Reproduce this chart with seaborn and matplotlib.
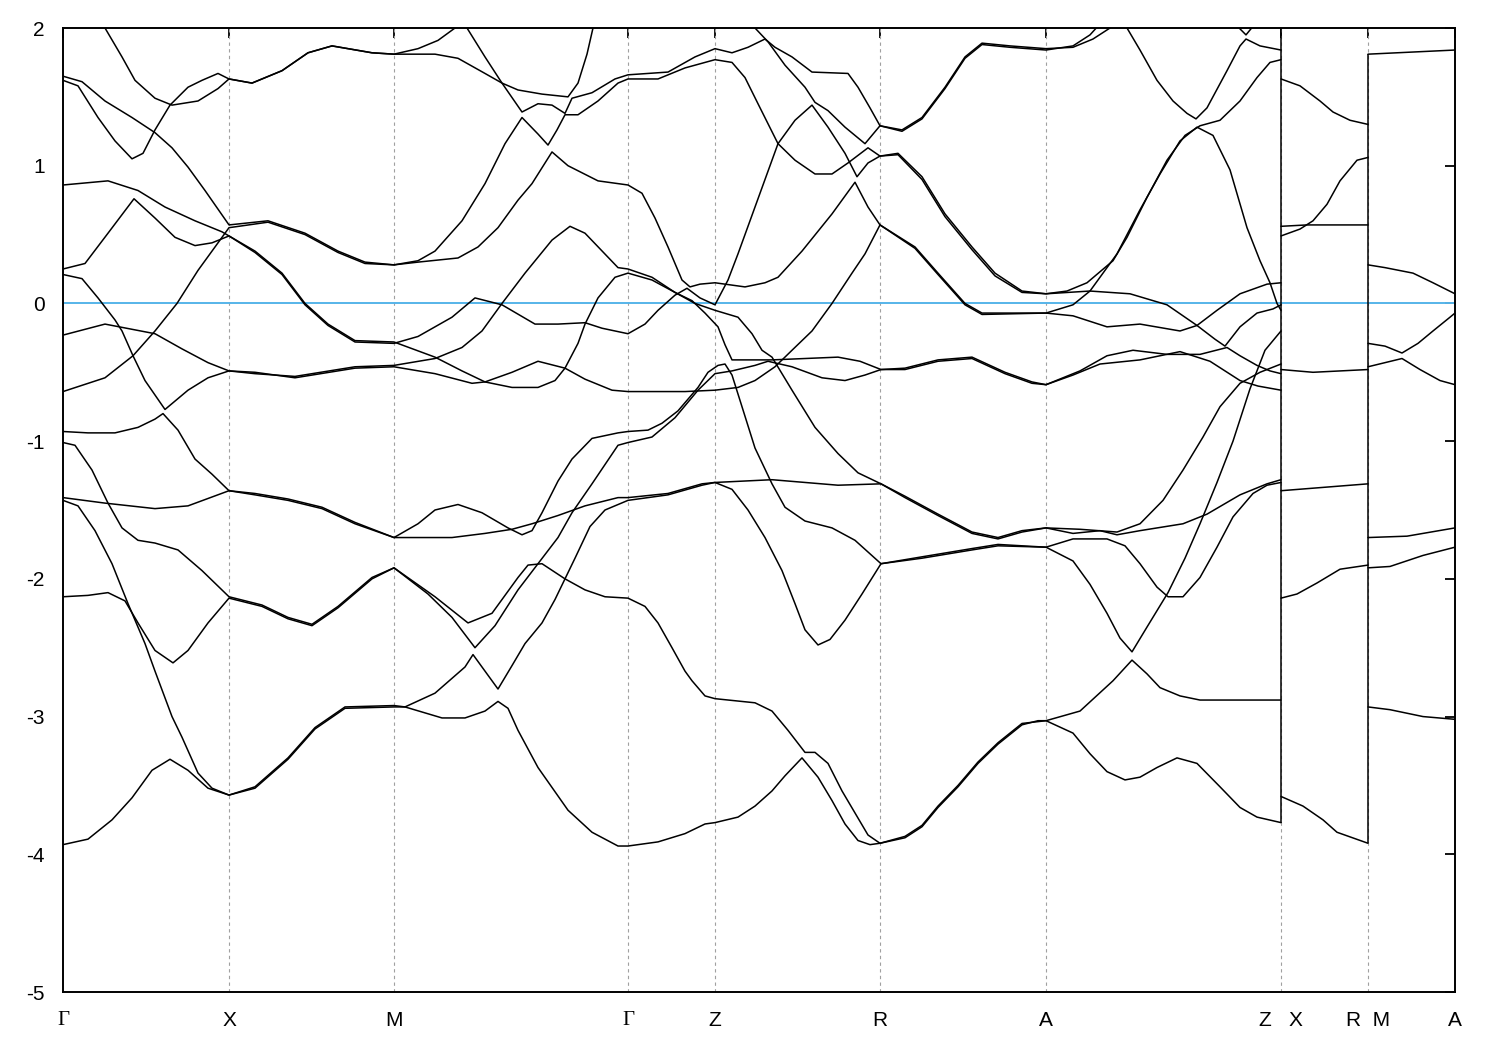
import matplotlib
matplotlib.use('Agg')
import matplotlib.pyplot as plt
import seaborn as sns
import pandas as pd

# high symmetry points along the k-path
k_ticks = [0, 166, 331, 565, 652, 817, 983, 1218, 1305, 1392]
k_labels = ['Γ', 'X', 'M', 'Γ', 'Z', 'R', 'A', 'Z   X', 'R  M', 'A']

# bands on Γ-X-M-Γ-Z-R-A-Z, (k, E) pairs
band_01 = [(37, 2.05), (42, 2.0), (59, 1.79), (72, 1.62), (92, 1.49), (109, 1.44), (135, 1.47), (155, 1.56),
           (166, 1.63), (189, 1.6), (219, 1.69), (245, 1.82), (269, 1.87), (309, 1.82), (331, 1.81), (372, 1.81),
           (395, 1.78), (422, 1.67), (439, 1.6), (455, 1.55), (479, 1.52), (505, 1.5), (515, 1.6), (524, 1.81),
           (530, 2.0), (532, 2.05)]
band_02 = [(0, 1.62), (15, 1.58), (35, 1.35), (52, 1.18), (69, 1.05), (80, 1.09), (92, 1.26), (107, 1.44),
           (125, 1.57), (139, 1.62), (155, 1.67), (166, 1.63), (189, 1.6), (219, 1.69), (245, 1.82), (269, 1.87),
           (309, 1.82), (331, 1.81), (355, 1.85), (375, 1.91), (392, 2.0), (395, 2.03)]
band_03 = [(0, 1.65), (19, 1.61), (42, 1.47), (69, 1.35), (92, 1.24), (109, 1.13), (125, 0.99), (142, 0.82),
           (166, 0.57), (205, 0.6), (242, 0.51), (275, 0.38), (302, 0.3), (331, 0.28), (355, 0.3), (395, 0.33),
           (415, 0.41), (435, 0.55), (455, 0.75), (469, 0.87), (489, 1.1), (505, 1.0), (535, 0.89), (565, 0.86),
           (579, 0.8), (592, 0.62), (605, 0.41), (619, 0.17), (627, 0.12), (637, 0.14), (652, 0.15), (682, 0.12),
           (702, 0.15), (715, 0.19), (739, 0.38), (769, 0.65), (792, 0.88), (805, 0.7), (817, 0.57), (852, 0.41),
           (875, 0.22), (902, 0.0), (919, -0.07), (947, -0.07), (983, -0.07), (1010, -0.01), (1027, 0.09),
           (1054, 0.36), (1077, 0.68), (1097, 0.94), (1117, 1.18), (1134, 1.28), (1150, 1.22), (1167, 0.97),
           (1184, 0.55), (1197, 0.31), (1207, 0.15), (1214, 0.0), (1218, -0.05)]
band_04 = [(0, -0.64), (42, -0.54), (70, -0.38), (92, -0.2), (114, 0.0), (135, 0.24), (155, 0.44), (166, 0.55),
           (205, 0.59), (242, 0.5), (275, 0.37), (302, 0.29), (331, 0.28), (355, 0.31), (372, 0.38), (399, 0.6),
           (422, 0.87), (442, 1.16), (459, 1.35), (475, 1.23), (485, 1.15), (494, 1.26), (502, 1.37), (515, 1.37),
           (535, 1.47), (555, 1.6), (565, 1.63), (595, 1.63), (622, 1.71), (652, 1.77), (669, 1.75), (682, 1.64),
           (695, 1.45), (715, 1.16), (732, 1.04), (752, 0.94), (769, 0.94), (785, 1.02), (805, 1.13), (817, 1.07),
           (835, 1.09), (859, 0.92), (882, 0.65), (909, 0.41), (932, 0.22), (959, 0.09), (983, 0.07), (1004, 0.09),
           (1024, 0.15), (1050, 0.31), (1064, 0.48), (1084, 0.77), (1104, 1.04), (1122, 1.22), (1137, 1.29),
           (1157, 1.33), (1177, 1.47), (1194, 1.64), (1207, 1.75), (1218, 1.77)]
band_05 = [(0, 0.86), (45, 0.89), (75, 0.82), (102, 0.7), (132, 0.6), (159, 0.52), (166, 0.49), (192, 0.38),
           (219, 0.22), (242, 0.0), (265, -0.15), (292, -0.27), (331, -0.28), (372, -0.39), (399, -0.49),
           (422, -0.57), (449, -0.61), (475, -0.61), (492, -0.56), (502, -0.47), (515, -0.29), (522, -0.15),
           (535, 0.04), (552, 0.19), (565, 0.22), (589, 0.17), (612, 0.08), (629, 0.02), (642, -0.07), (655, -0.17),
           (662, -0.3), (669, -0.41), (709, -0.41), (775, -0.39), (797, -0.42), (818, -0.48), (842, -0.47),
           (875, -0.41), (909, -0.39), (942, -0.5), (969, -0.57), (983, -0.59), (1017, -0.49), (1044, -0.38),
           (1070, -0.34), (1104, -0.37), (1137, -0.37), (1164, -0.32), (1177, -0.38), (1194, -0.45), (1207, -0.49),
           (1218, -0.51)]
band_06 = [(0, 0.25), (22, 0.29), (45, 0.51), (71, 0.76), (92, 0.62), (112, 0.48), (132, 0.42), (149, 0.44),
           (166, 0.49), (192, 0.37), (219, 0.21), (242, -0.01), (265, -0.16), (292, -0.28), (331, -0.29),
           (355, -0.24), (389, -0.1), (412, 0.04), (439, -0.01), (472, -0.15), (495, -0.15), (522, -0.14),
           (539, -0.18), (565, -0.22), (582, -0.15), (595, -0.05), (612, 0.06), (624, 0.11), (637, 0.04),
           (652, -0.01), (665, 0.17), (675, 0.36), (692, 0.7), (715, 1.16), (732, 1.33), (749, 1.44), (765, 1.28),
           (782, 1.09), (794, 0.92), (805, 1.02), (817, 1.07), (835, 1.08), (859, 0.9), (882, 0.63), (909, 0.39),
           (932, 0.2), (959, 0.08), (983, 0.07), (1027, 0.09), (1067, 0.07), (1104, -0.01), (1134, -0.16),
           (1152, -0.26), (1162, -0.31), (1177, -0.17), (1194, -0.07), (1210, -0.04), (1218, -0.01)]
band_07 = [(0, 0.21), (19, 0.18), (35, 0.04), (52, -0.12), (59, -0.2), (70, -0.38), (82, -0.56), (102, -0.77),
           (125, -0.63), (145, -0.54), (166, -0.49), (192, -0.51), (232, -0.53), (292, -0.46), (331, -0.45),
           (372, -0.4), (399, -0.32), (419, -0.2), (439, 0.0), (462, 0.22), (489, 0.46), (507, 0.56), (522, 0.51),
           (555, 0.26), (565, 0.25), (589, 0.19), (612, 0.08), (632, 0.0), (652, -0.05), (675, -0.1), (689, -0.22),
           (699, -0.34), (709, -0.39), (729, -0.63), (752, -0.9), (775, -1.09), (795, -1.23), (818, -1.31),
           (842, -1.4), (875, -1.53), (909, -1.66), (935, -1.7), (959, -1.65), (983, -1.63), (1010, -1.67),
           (1037, -1.65), (1054, -1.68), (1077, -1.65), (1120, -1.6), (1144, -1.53), (1177, -1.39), (1204, -1.31),
           (1218, -1.28)]
band_08 = [(0, -0.23), (42, -0.15), (92, -0.22), (119, -0.33), (145, -0.43), (166, -0.49), (192, -0.5),
           (232, -0.54), (292, -0.47), (331, -0.46), (372, -0.51), (409, -0.58), (422, -0.57), (449, -0.5),
           (475, -0.42), (502, -0.47), (522, -0.55), (549, -0.63), (565, -0.64), (622, -0.64), (652, -0.63),
           (675, -0.61), (692, -0.56), (712, -0.46), (729, -0.34), (749, -0.2), (769, 0.0), (789, 0.22),
           (802, 0.36), (817, 0.57), (852, 0.4), (875, 0.21), (902, -0.01), (919, -0.08), (983, -0.07),
           (1010, -0.09), (1044, -0.17), (1077, -0.15), (1117, -0.2), (1134, -0.16), (1154, -0.05), (1177, 0.07),
           (1204, 0.14), (1218, 0.15)]
band_09 = [(0, -0.93), (25, -0.94), (52, -0.94), (75, -0.9), (92, -0.84), (100, -0.8), (115, -0.92),
           (132, -1.13), (149, -1.24), (166, -1.36), (192, -1.38), (225, -1.42), (259, -1.48), (292, -1.59),
           (331, -1.7), (355, -1.6), (372, -1.5), (395, -1.46), (419, -1.52), (445, -1.63), (459, -1.68),
           (469, -1.65), (479, -1.52), (495, -1.29), (509, -1.13), (529, -0.98), (555, -0.94), (565, -0.93),
           (585, -0.92), (599, -0.87), (615, -0.78), (635, -0.61), (645, -0.5), (655, -0.45), (662, -0.44),
           (669, -0.52), (679, -0.75), (692, -1.05), (709, -1.31), (722, -1.48), (742, -1.58), (769, -1.63),
           (792, -1.72), (818, -1.89), (859, -1.85), (909, -1.79), (935, -1.76), (983, -1.77), (1010, -1.87),
           (1027, -2.04), (1044, -2.25), (1057, -2.43), (1069, -2.53), (1084, -2.35), (1105, -2.1), (1122, -1.85),
           (1137, -1.6), (1154, -1.3), (1170, -1.0), (1187, -0.62), (1202, -0.34), (1218, -0.2)]
band_10 = [(0, -1.41), (42, -1.45), (92, -1.49), (125, -1.47), (166, -1.36), (192, -1.39), (225, -1.43),
           (259, -1.49), (292, -1.6), (331, -1.7), (389, -1.7), (422, -1.67), (449, -1.64), (469, -1.6),
           (495, -1.54), (522, -1.47), (555, -1.41), (565, -1.41), (605, -1.38), (639, -1.31), (652, -1.3),
           (709, -1.28), (775, -1.32), (818, -1.31), (842, -1.41), (875, -1.54), (909, -1.67), (935, -1.71),
           (959, -1.66), (983, -1.63), (1017, -1.64), (1054, -1.66), (1077, -1.6), (1100, -1.43), (1120, -1.21),
           (1140, -0.97), (1157, -0.75), (1177, -0.58), (1197, -0.5), (1218, -0.44)]
band_11 = [(0, -1.01), (12, -1.03), (29, -1.21), (45, -1.45), (59, -1.63), (75, -1.72), (92, -1.74),
           (115, -1.79), (139, -1.94), (166, -2.13), (199, -2.19), (225, -2.28), (249, -2.33), (275, -2.2),
           (309, -1.99), (331, -1.92), (365, -2.11), (389, -2.28), (412, -2.5), (432, -2.34), (455, -2.08),
           (475, -1.89), (495, -1.7), (509, -1.52), (529, -1.31), (555, -1.03), (565, -1.01), (589, -0.97),
           (612, -0.83), (635, -0.63), (652, -0.51), (669, -0.49), (692, -0.45), (705, -0.42), (729, -0.46),
           (759, -0.54), (782, -0.56), (802, -0.52), (818, -0.48), (842, -0.48), (875, -0.42), (909, -0.4),
           (942, -0.51), (969, -0.58), (983, -0.59), (1010, -0.52), (1037, -0.44), (1077, -0.41), (1117, -0.35),
           (1147, -0.42), (1177, -0.56), (1195, -0.6), (1218, -0.63)]
band_12 = [(0, -2.13), (25, -2.12), (45, -2.1), (62, -2.16), (75, -2.32), (92, -2.52), (110, -2.61),
           (125, -2.52), (145, -2.32), (166, -2.14), (199, -2.2), (225, -2.29), (249, -2.34), (275, -2.21),
           (309, -2.0), (331, -1.92), (372, -2.13), (405, -2.32), (429, -2.25), (455, -1.99), (465, -1.9),
           (479, -1.89), (502, -2.0), (522, -2.08), (542, -2.13), (565, -2.14), (582, -2.2), (595, -2.32),
           (609, -2.5), (622, -2.67), (629, -2.74), (642, -2.85), (652, -2.87), (692, -2.9), (709, -2.96),
           (725, -3.1), (742, -3.26), (752, -3.26), (765, -3.34), (779, -3.54), (792, -3.7), (805, -3.86),
           (817, -3.92), (842, -3.88), (859, -3.8), (875, -3.66), (895, -3.51), (915, -3.34), (935, -3.2),
           (959, -3.06), (975, -3.03), (983, -3.03), (1017, -2.96), (1050, -2.74), (1069, -2.59), (1084, -2.69),
           (1097, -2.79), (1117, -2.85), (1137, -2.88), (1218, -2.88)]
band_13 = [(0, -1.43), (15, -1.47), (32, -1.65), (49, -1.89), (65, -2.18), (82, -2.47), (92, -2.67),
           (109, -3.0), (119, -3.15), (135, -3.41), (149, -3.52), (166, -3.57), (192, -3.51), (225, -3.3),
           (252, -3.08), (282, -2.93), (331, -2.92), (342, -2.93), (372, -2.83), (402, -2.64), (410, -2.55),
           (422, -2.67), (435, -2.8), (449, -2.63), (462, -2.47), (479, -2.32), (492, -2.15), (502, -2.0),
           (512, -1.85), (527, -1.62), (542, -1.5), (565, -1.43), (605, -1.39), (639, -1.32), (652, -1.3),
           (669, -1.35), (685, -1.5), (702, -1.7), (719, -1.94), (732, -2.18), (742, -2.37), (755, -2.48),
           (767, -2.44), (782, -2.3), (799, -2.11), (818, -1.89), (859, -1.84), (909, -1.78), (935, -1.75),
           (983, -1.77), (1010, -1.71), (1044, -1.71), (1062, -1.76), (1077, -1.89), (1094, -2.06), (1105, -2.13),
           (1120, -2.13), (1137, -1.99), (1154, -1.77), (1170, -1.55), (1190, -1.38), (1204, -1.32), (1218, -1.3)]
band_14 = [(0, -3.93), (25, -3.89), (49, -3.75), (69, -3.59), (89, -3.39), (107, -3.31), (125, -3.39),
           (145, -3.52), (166, -3.57), (192, -3.52), (225, -3.31), (252, -3.09), (282, -2.94), (331, -2.93),
           (342, -2.93), (379, -3.01), (402, -3.01), (422, -2.96), (435, -2.89), (445, -2.94), (455, -3.1),
           (475, -3.37), (505, -3.68), (529, -3.84), (555, -3.94), (565, -3.94), (595, -3.91), (622, -3.85),
           (642, -3.78), (652, -3.77), (675, -3.73), (692, -3.65), (709, -3.54), (722, -3.43), (739, -3.3),
           (755, -3.44), (769, -3.61), (782, -3.78), (795, -3.9), (807, -3.93), (817, -3.92), (842, -3.87),
           (859, -3.79), (875, -3.65), (895, -3.5), (915, -3.33), (935, -3.19), (959, -3.05), (983, -3.03),
           (1010, -3.12), (1027, -3.27), (1044, -3.4), (1062, -3.46), (1077, -3.44), (1094, -3.37), (1114, -3.3),
           (1134, -3.34), (1157, -3.51), (1177, -3.66), (1194, -3.73), (1218, -3.77)]

# bands that come in from above the window
band_15 = [(402, 2.03), (404, 2.0), (422, 1.79), (439, 1.6), (459, 1.39), (475, 1.45), (489, 1.44), (502, 1.38),
           (509, 1.49), (529, 1.53), (552, 1.63), (565, 1.66), (605, 1.68), (632, 1.79), (652, 1.85), (669, 1.82),
           (685, 1.86), (702, 1.92), (712, 1.86), (729, 1.79), (749, 1.68), (785, 1.67), (795, 1.57), (807, 1.42),
           (817, 1.29), (839, 1.26), (859, 1.35), (882, 1.57), (902, 1.79), (919, 1.89), (947, 1.87), (983, 1.85),
           (1010, 1.86), (1030, 1.92), (1047, 2.0), (1050, 2.03)]
band_16 = [(690, 2.03), (692, 2.0), (705, 1.9), (722, 1.73), (742, 1.57), (752, 1.46), (765, 1.4), (782, 1.28),
           (802, 1.16), (817, 1.29), (839, 1.25), (859, 1.34), (882, 1.56), (902, 1.78), (919, 1.88), (947, 1.86),
           (983, 1.84), (1010, 1.87), (1027, 1.95), (1037, 2.03)]
band_17 = [(1062, 2.03), (1064, 2.0), (1077, 1.84), (1094, 1.62), (1110, 1.47), (1124, 1.38), (1133, 1.34),
           (1144, 1.42), (1164, 1.69), (1177, 1.87), (1183, 1.92), (1197, 1.87), (1218, 1.84)]
band_18 = [(1172, 2.03), (1183, 1.95), (1192, 2.03), (1218, 2.2)]

# X-R segment
xr_bands = [
    [(1218, 1.63), (1237, 1.58), (1257, 1.47), (1270, 1.39), (1287, 1.33), (1305, 1.3)],
    [(1218, 0.49), (1237, 0.54), (1250, 0.6), (1264, 0.72), (1277, 0.89), (1294, 1.04), (1305, 1.06)],
    [(1218, 0.56), (1244, 0.57), (1305, 0.57)],
    [(1218, -0.48), (1250, -0.5), (1305, -0.48)],
    [(1218, -1.36), (1305, -1.31)],
    [(1218, -2.14), (1234, -2.11), (1254, -2.03), (1277, -1.93), (1305, -1.9)],
    [(1218, -3.58), (1240, -3.65), (1260, -3.75), (1274, -3.84), (1305, -3.92)],
]
# M-A segment
ma_bands = [
    [(1305, 1.81), (1392, 1.84)],
    [(1305, 0.28), (1322, 0.26), (1350, 0.22), (1370, 0.15), (1392, 0.07)],
    [(1305, -0.29), (1322, -0.31), (1339, -0.36), (1355, -0.29), (1370, -0.2), (1387, -0.1), (1392, -0.07)],
    [(1305, -0.46), (1322, -0.43), (1339, -0.4), (1357, -0.48), (1377, -0.56), (1392, -0.59)],
    [(1305, -1.7), (1344, -1.69), (1392, -1.63)],
    [(1305, -1.92), (1327, -1.91), (1360, -1.83), (1392, -1.77)],
    [(1305, -2.93), (1327, -2.95), (1360, -3.0), (1392, -3.02)],
]

fermi_level = 0.0
e_min, e_max = -5, 2


def build_frame(bands):
    rows = []
    for i, band in enumerate(bands):
        for k, e in band:
            rows.append({'band': i, 'k': k, 'E': e})
    return pd.DataFrame(rows)


def plot_bands():
    main_bands = [band_01, band_02, band_03, band_04, band_05, band_06, band_07, band_08, band_09,
                  band_10, band_11, band_12, band_13, band_14, band_15, band_16, band_17, band_18]
    all_bands = main_bands + xr_bands + ma_bands
    df = build_frame(all_bands)

    sns.set_theme(style='white')
    plt.rcParams['font.family'] = ['Liberation Sans', 'DejaVu Sans']
    plt.rcParams['axes.unicode_minus'] = False

    fig = plt.figure(figsize=(15, 10.5), dpi=100)
    ax = fig.add_axes([63 / 1500, 1 - 992 / 1050, 1392 / 1500, 964 / 1050])

    # dashed lines at the high symmetry points
    ax.vlines(k_ticks[1:-1], e_min, e_max, colors='#a0a0a0', linestyles=(0, (3, 3)), lw=0.8, zorder=1)
    ax.axhline(fermi_level, color='#56b4e9', lw=1.4, zorder=2)

    sns.lineplot(data=df, x='k', y='E', units='band', estimator=None, sort=False,
                 color='black', lw=1.1, ax=ax, legend=False, zorder=3)

    # jumps between path pieces (Z|X and R|M)
    for k_jump in (k_ticks[7], k_ticks[8]):
        vals = df.loc[df['k'] == k_jump, 'E']
        ax.vlines(k_jump, vals.min(), vals.max(), colors='black', lw=1.1, zorder=3)

    ax.set_xlim(k_ticks[0], k_ticks[-1])
    ax.set_ylim(e_min, e_max)
    ax.set_xticks(k_ticks)
    ax.set_xticklabels(k_labels)
    ax.set_yticks(range(e_min, e_max + 1))
    ax.set_xlabel('')
    ax.set_ylabel('')

    ax.tick_params(axis='both', direction='in', length=7, width=1.3, top=True, right=True,
                   labelsize=15, colors='black')
    ax.tick_params(axis='x', pad=14)
    ax.tick_params(axis='y', pad=13)
    for lab in ax.get_xticklabels():
        if lab.get_text() == 'Γ':
            lab.set_fontfamily(['Liberation Serif', 'DejaVu Serif'])

    for spine in ax.spines.values():
        spine.set_visible(True)
        spine.set_color('black')
        spine.set_linewidth(1.4)

    fig.savefig('out.png', dpi=100, facecolor='white')


def main():
    plot_bands()


if __name__ == '__main__':
    main()
